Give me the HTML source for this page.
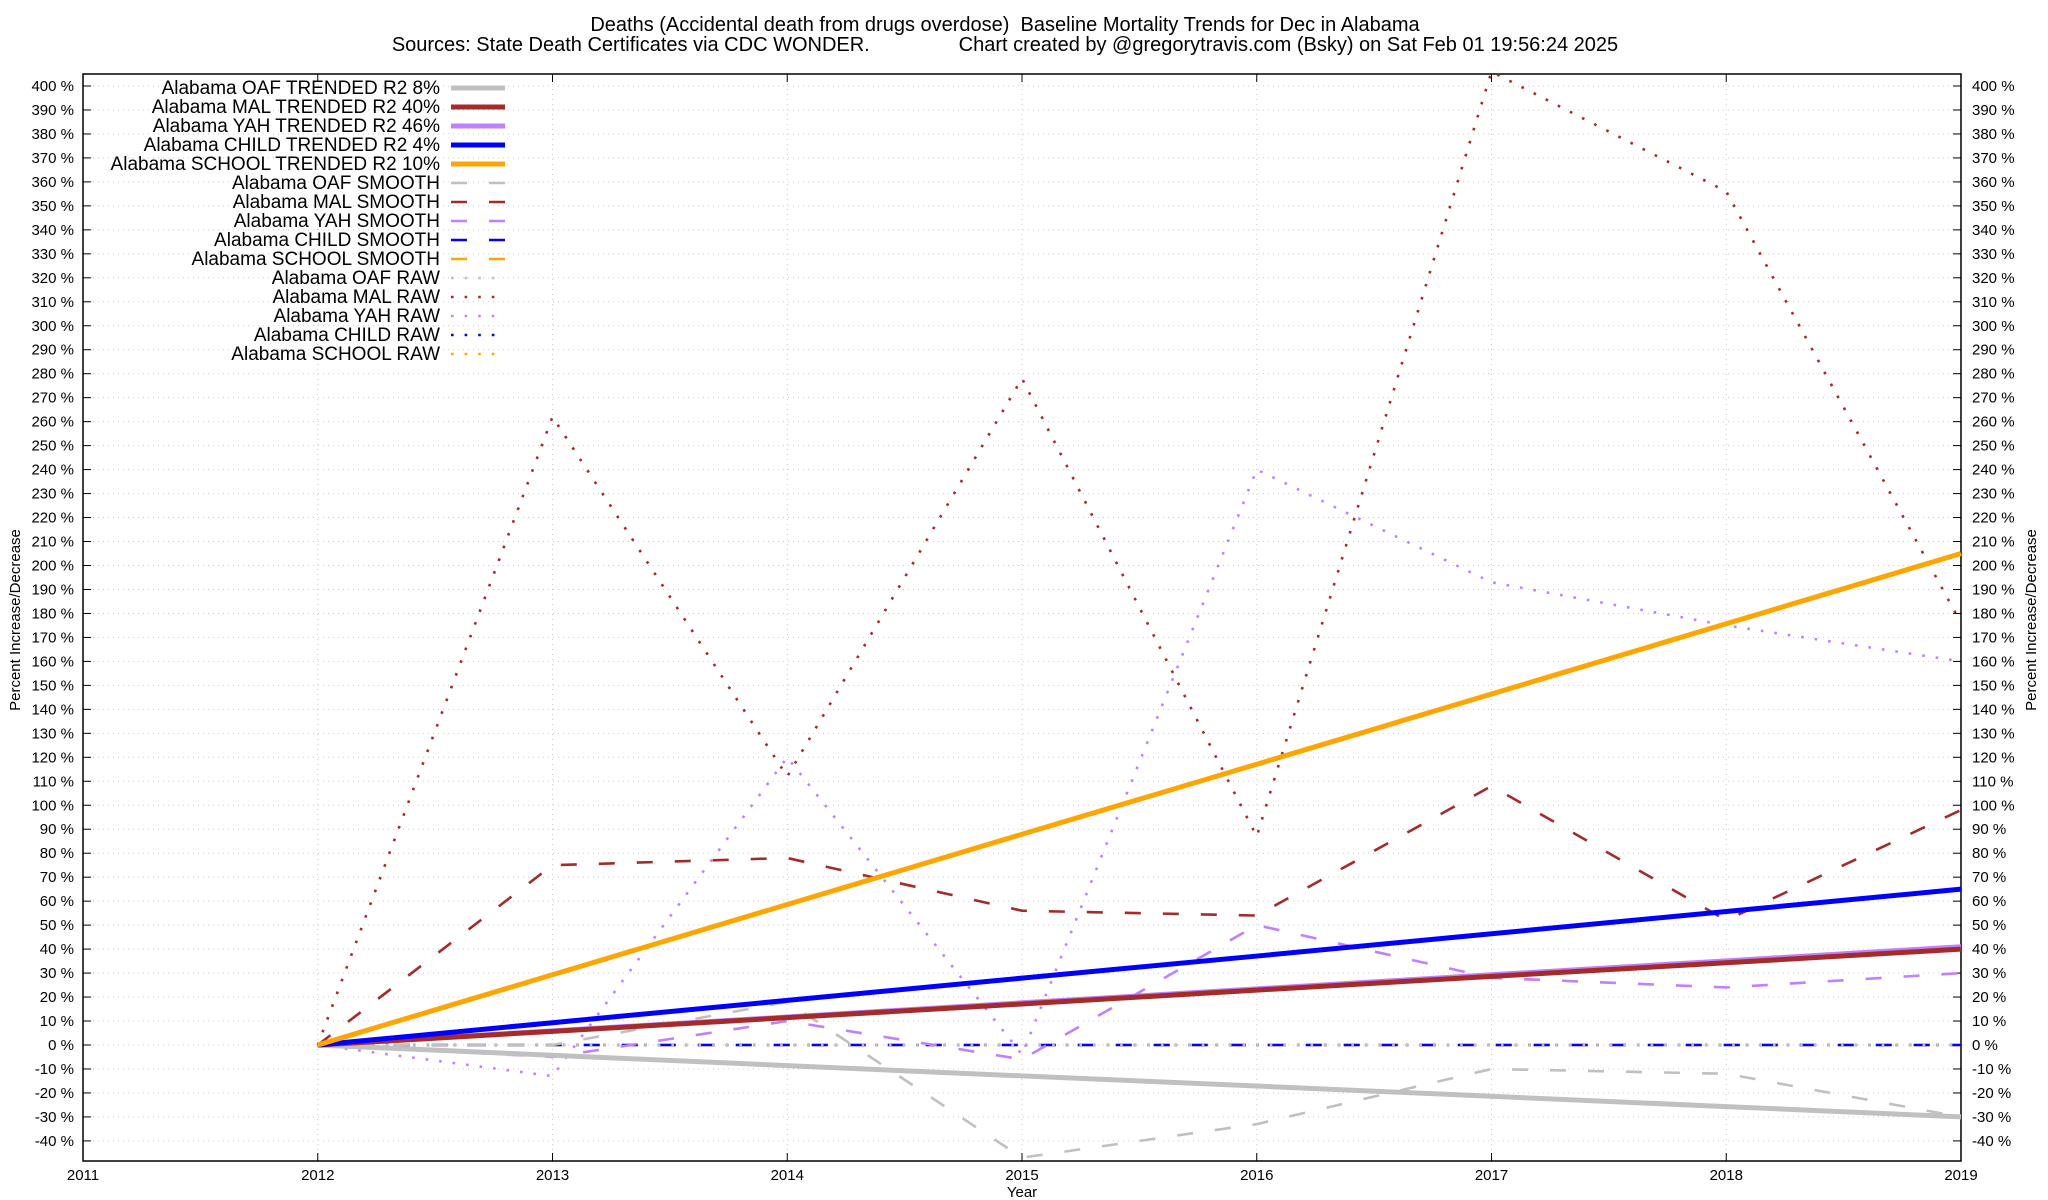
<!DOCTYPE html>
<html><head><meta charset="utf-8"><style>
html,body{margin:0;padding:0;background:#fff;}
svg{display:block;font-family:"Liberation Sans",sans-serif;}
</style></head><body>
<svg id="chart" width="2048" height="1200" viewBox="0 0 2048 1200" xmlns="http://www.w3.org/2000/svg">
<rect width="2048" height="1200" fill="#fff"/>
<text x="1005" y="31" font-size="20" text-anchor="middle" xml:space="preserve">Deaths (Accidental death from drugs overdose)  Baseline Mortality Trends for Dec in Alabama</text>
<text x="1005" y="51" font-size="20" text-anchor="middle" xml:space="preserve">Sources: State Death Certificates via CDC WONDER.                Chart created by @gregorytravis.com (Bsky) on Sat Feb 01 19:56:24 2025</text>
<g id="grid"></g>
<g id="axes"></g>
<g id="series"></g>
<g id="legend"></g>
<text x="1022" y="1197" font-size="15" text-anchor="middle">Year</text>
<text transform="translate(20,620) rotate(-90)" font-size="15" text-anchor="middle">Percent Increase/Decrease</text>
<text transform="translate(2036,620) rotate(-90)" font-size="15" text-anchor="middle">Percent Increase/Decrease</text>
</svg>
<script>
const years=[2012,2013,2014,2015,2016,2017,2018,2019];
const xTicks=[2011,2012,2013,2014,2015,2016,2017,2018,2019];
const yTicks=[-40,-30,-20,-10,0,10,20,30,40,50,60,70,80,90,100,110,120,130,140,150,160,170,180,190,200,210,220,230,240,250,260,270,280,290,300,310,320,330,340,350,360,370,380,390,400];
const oafTrend=[0,-4.3,-8.6,-12.9,-17.1,-21.4,-25.7,-30];
const malTrend=[0,5.7,11.4,17.1,22.9,28.6,34.3,40];
const yahTrend=[0,5.9,11.7,17.6,23.4,29.3,35.1,41];
const childTrend=[0,9.3,18.6,27.9,37.1,46.4,55.7,65];
const schoolTrend=[0,29.3,58.6,87.9,117.1,146.4,175.7,205];
const oafSmooth=[0,0,18,-47,-33,-10,-12,-30];
const malSmooth=[0,75,78,56,54,108,52,98];
const yahSmooth=[0,-5,10,-6,50,28,24,30];
const childSmooth=[0,0,0,0,0,0,0,0];
const schoolSmooth=[0,0,0,0,0,0,0,0];
const oafRaw=[0,0,0,0,0,0,0,0];
const malRaw=[0,262,112,278,87,406,356,176];
const yahRaw=[0,-13,120,-4,240,193,175,160];
const childRaw=[0,0,0,0,0,0,0,0];
const schoolRaw=[0,0,0,0,0,0,0,0];

const L=83,R=1961,T=74,B=1161;
function X(v){return L+(v-2011)*(R-L)/8;}
function Y(v){return 1045-(v)*(1045-86)/400;}
const NS="http://www.w3.org/2000/svg";
function mk(tag,attrs,parent){const e=document.createElementNS(NS,tag);for(const k in attrs)e.setAttribute(k,attrs[k]);parent.appendChild(e);return e;}
const grid=document.getElementById('grid'),axes=document.getElementById('axes'),series=document.getElementById('series'),legend=document.getElementById('legend');
yTicks.forEach(v=>{
  const g=mk('line',{x1:L,x2:R,y1:Y(v),y2:Y(v),stroke:'#ccc','stroke-width':1,'stroke-dasharray':'1,4'},grid);
  
  
  const t1=mk('text',{x:74,y:Y(v)+5,'font-size':15,'text-anchor':'end'},axes);t1.textContent=v+' %';
  
  
  const t2=mk('text',{x:1972,y:Y(v)+5,'font-size':15},axes);t2.textContent=v+' %';
  
  
  mk('line',{x1:L,x2:L+8,y1:Y(v),y2:Y(v),stroke:'#000'},axes);
  mk('line',{x1:R-8,x2:R,y1:Y(v),y2:Y(v),stroke:'#000'},axes);
});
xTicks.forEach(v=>{
  const g=mk('line',{x1:X(v),x2:X(v),y1:T,y2:B,stroke:'#ccc','stroke-width':1,'stroke-dasharray':'1,4'},grid);
  
  
  mk('line',{x1:X(v),x2:X(v),y1:B-8,y2:B,stroke:'#000'},axes);
  mk('line',{x1:X(v),x2:X(v),y1:T,y2:T+8,stroke:'#000'},axes);
  const t=mk('text',{x:X(v),y:B+19,'font-size':15,'text-anchor':'middle'},axes);t.textContent=v;
  
  
});
const fr=mk('rect',{x:L,y:T,width:R-L,height:B-T,fill:'none',stroke:'#000','stroke-width':1.5},axes);


const C={oaf:'#c0c0c0',mal:'#a52a2a',yah:'#c080ff',child:'#0000ff',school:'#ffa500'};
const styles={trend:{w:5,d:''},smooth:{w:2.6,d:'16,22'},raw:{w:2.6,d:'2.6,11'}};
const defs=[
 ['Alabama OAF TRENDED R2   8%',oafTrend,'oaf','trend'],
 ['Alabama MAL TRENDED R2  40%',malTrend,'mal','trend'],
 ['Alabama YAH TRENDED R2  46%',yahTrend,'yah','trend'],
 ['Alabama CHILD TRENDED R2   4%',childTrend,'child','trend'],
 ['Alabama SCHOOL TRENDED R2  10%',schoolTrend,'school','trend'],
 ['Alabama OAF SMOOTH',oafSmooth,'oaf','smooth'],
 ['Alabama MAL SMOOTH',malSmooth,'mal','smooth'],
 ['Alabama YAH SMOOTH',yahSmooth,'yah','smooth'],
 ['Alabama CHILD SMOOTH',childSmooth,'child','smooth'],
 ['Alabama SCHOOL SMOOTH',schoolSmooth,'school','smooth'],
 ['Alabama OAF RAW',oafRaw,'oaf','raw'],
 ['Alabama MAL RAW',malRaw,'mal','raw'],
 ['Alabama YAH RAW',yahRaw,'yah','raw'],
 ['Alabama CHILD RAW',childRaw,'child','raw'],
 ['Alabama SCHOOL RAW',schoolRaw,'school','raw']];
const order=[14,9,13,8,10,11,12,5,6,7,0,2,1,3,4];
order.forEach(i=>{
  const [name,vals,c,s]=defs[i];const st=styles[s];
  const pts=vals.map((v,j)=>X(years[j])+','+Y(v)).join(' ');
  const p=mk('polyline',{points:pts,fill:'none',stroke:C[c],'stroke-width':st.w,'stroke-dasharray':st.d,'stroke-linejoin':'round'},series);
  
  
});
defs.forEach((d,i)=>{
  const [name,vals,c,s]=d;const st=styles[s];const y=88+i*19;
  const t=mk('text',{x:440,y:y+6,'font-size':19,'text-anchor':'end'},legend);
  t.setAttribute('xml:space','preserve');t.textContent=name;
  
  
  const l=mk('line',{x1:451,x2:505,y1:y,y2:y,stroke:C[c],'stroke-width':st.w,'stroke-dasharray':st.d},legend);
  
  
});
</script>
</body></html>
